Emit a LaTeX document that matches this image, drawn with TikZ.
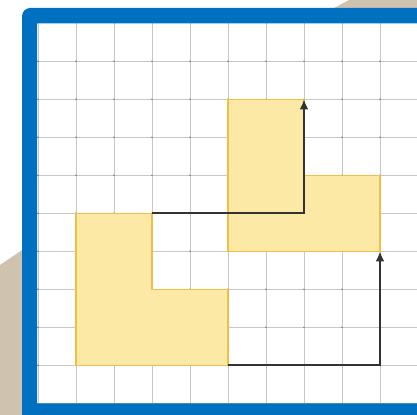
\documentclass[tikz,border=0pt]{standalone}
\usepackage{tikz}
\usetikzlibrary{arrows.meta}
\definecolor{frameblue}{HTML}{0070C0}
\definecolor{backbeige}{HTML}{CFC3B0}
\definecolor{shapefill}{HTML}{FDE9A6}
\definecolor{shapeedge}{HTML}{F2BE48}
\tikzset{gridline/.style={draw=black!22, line width=0.6pt}}
\tikzset{griddot/.style={fill=black!50}}
\tikzset{lshape/.style={fill=shapefill, draw=shapeedge, line width=0.9pt, line join=miter}}
\tikzset{slide/.style={draw=black!80, line width=1.7pt, -{Latex[length=7.5pt,width=6.5pt]}, line join=miter}}

\begin{document}
\begin{tikzpicture}
	\clip (0,-0.308) rectangle (10.974,10.613);
	% backdrop behind the frame
	\fill[backbeige] (0,3.639) -- (1.2,4.45) -- (8.6,10.3) -- (9.184,10.613) -- (10.974,10.613)
	    -- (10.974,-0.308) -- (0,-0.308) -- cycle;
	\fill[white] (0.974,0) rectangle (10.974,10);
	% grid
	\foreach \x in {1,...,10} \draw[gridline] (\x,0) -- (\x,10);
	\foreach \y in {1,...,9} \draw[gridline] (0.974,\y) -- (10.974,\y);
	\foreach \x in {1,...,10} \foreach \y in {1,...,9} \fill[griddot] (\x,\y) circle (0.7pt);
	% the L shape and its image
	\draw[lshape] (2,5) -- (4,5) -- (4,3) -- (6,3) -- (6,1) -- (2,1) -- cycle;
	\draw[lshape] (6,8) -- (8,8) -- (8,6) -- (10,6) -- (10,4) -- (6,4) -- cycle;
	\coordinate (a1) at (4,5);
	\coordinate (b1) at (8,8);
	\coordinate (a2) at (6,1);
	\coordinate (b2) at (10,4);
	\draw[slide] (a1) -| (b1);
	\draw[slide] (a2) -| (b2);
	% frame
	\fill[frameblue, even odd rule, rounded corners=0.22cm] (0.579,-1) rectangle (12,10.403)
	    [sharp corners] (0.974,0) rectangle (12,10);
\end{tikzpicture}
\end{document}
